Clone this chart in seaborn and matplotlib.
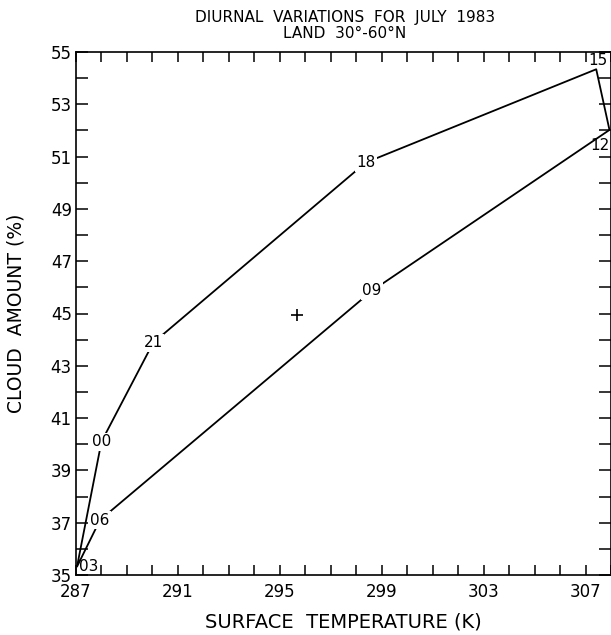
import numpy as np
import pandas as pd
import matplotlib
matplotlib.use("Agg")
import matplotlib.pyplot as plt
import seaborn as sns
from matplotlib.ticker import MultipleLocator, FuncFormatter

# Diurnal cycle, land 30°-60°N, July 1983 (hour of observation, GMT)
hours = ["00", "03", "06", "09", "12", "15", "18", "21"]
surface_temp = [288.0, 287.04, 287.94, 298.62, 307.94, 307.42, 298.37, 290.03]
cloud_amount = [40.10, 35.32, 37.10, 45.87, 52.02, 54.34, 50.77, 43.88]

x_tick_labels = [287, 291, 295, 299, 303, 307]
y_tick_labels = [35, 37, 39, 41, 43, 45, 47, 49, 51, 53, 55]

# hours whose label sits beside the vertex instead of on the line
label_offsets = {
    "03": ((1.5, 0.0), "left"),
    "15": ((1.5, 6.3), "center"),
    "12": ((-7.0, -11.4), "center"),
}

sns.set_style("ticks")
plt.rcParams.update({
    "font.family": ["DejaVu Sans"],
    "text.color": "black",
    "axes.labelcolor": "black",
    "xtick.color": "black",
    "ytick.color": "black",
    "axes.edgecolor": "black",
})

W, H = 611, 635
fig = plt.figure(figsize=(W / 100, H / 100), dpi=100)
ax = fig.add_axes([76 / W, 1 - 575 / H, 535 / W, 523 / H])

# closed loop through the eight observation times
loop = pd.DataFrame({
    "temp": surface_temp + surface_temp[:1],
    "cloud": cloud_amount + cloud_amount[:1],
})
sns.lineplot(data=loop, x="temp", y="cloud", sort=False, estimator=None,
             color="black", linewidth=1.3, ax=ax)

# daily mean
mean_pt = pd.DataFrame({"temp": [np.mean(surface_temp)],
                        "cloud": [np.mean(cloud_amount)]})
sns.scatterplot(data=mean_pt, x="temp", y="cloud", marker="+", s=85,
                color="black", linewidth=1.2, ax=ax, zorder=4)

for h, t, c in zip(hours, surface_temp, cloud_amount):
    if h in label_offsets:
        off, ha = label_offsets[h]
        ax.annotate(h, (t, c), xytext=off, textcoords="offset points",
                    ha=ha, va="center", fontsize=11, annotation_clip=False,
                    zorder=5)
    else:
        ax.text(t, c, h, ha="center", va="center", fontsize=11, zorder=5,
                bbox=dict(boxstyle="square,pad=0.1", fc="white", ec="none"))

ax.set_xlim(287, 308)
ax.set_ylim(35, 55)
ax.xaxis.set_major_locator(MultipleLocator(1))
ax.yaxis.set_major_locator(MultipleLocator(1))
ax.xaxis.set_major_formatter(FuncFormatter(
    lambda v, p: f"{int(round(v))}" if int(round(v)) in x_tick_labels else ""))
ax.yaxis.set_major_formatter(FuncFormatter(
    lambda v, p: f"{int(round(v))}" if int(round(v)) in y_tick_labels else ""))
ax.tick_params(axis="both", which="major", direction="in", length=8.5,
               width=1.1, top=True, right=True, labelsize=12)
ax.tick_params(axis="x", length=7.5, pad=6)
ax.tick_params(axis="y", pad=3)
for s in ax.spines.values():
    s.set_linewidth(1.2)
    s.set_visible(True)

ax.set_xlabel("SURFACE  TEMPERATURE (K)", fontsize=14)
ax.xaxis.set_label_coords(0.5, -(612 - 575) / 523)
ax.set_ylabel("CLOUD  AMOUNT (%)", fontsize=13.5)
ax.yaxis.set_label_coords((26 - 76) / 535, 0.5)

fig.text(345 / W, 1 - 21.7 / H, "DIURNAL  VARIATIONS  FOR  JULY  1983",
         ha="center", va="baseline", fontsize=11)
fig.text(345 / W, 1 - 38.3 / H, "LAND  30°-60°N",
         ha="center", va="baseline", fontsize=11)

fig.savefig("out.png", dpi=100)
